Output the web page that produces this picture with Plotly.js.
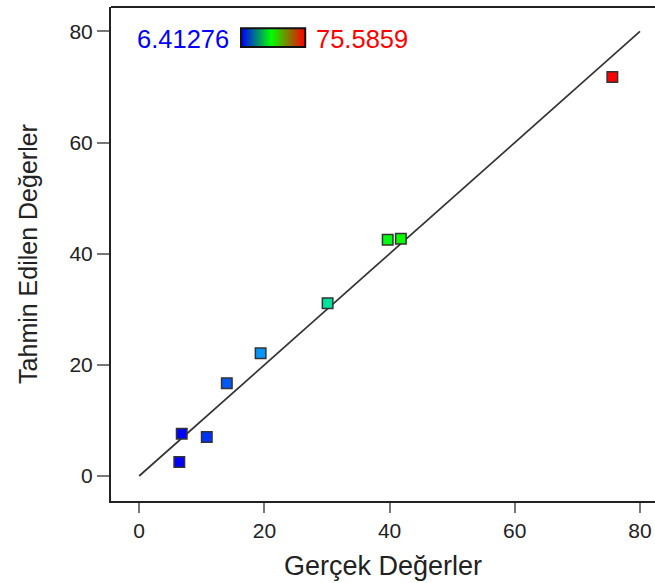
<!DOCTYPE html>
<html>
<head>
<meta charset="utf-8">
<script src="https://cdn.plot.ly/plotly-3.0.1.min.js"></script>
<style>html,body{margin:0;padding:0;background:#fff;}#chart{width:655px;height:583px;}</style>
</head>
<body>
<div id="chart"></div>
<script>
// Data
const actualValues = [6.41276, 6.8, 10.8, 14.0, 19.4, 30.1, 39.7, 41.8, 75.5859];
const predictedValues = [2.5, 7.6, 7.0, 16.7, 22.1, 31.1, 42.5, 42.7, 71.8];
const colorMin = 6.41276;
const colorMax = 75.5859;
const refLineX = [0, 80];
const refLineY = [0, 80];
const tickVals = [0, 20, 40, 60, 80];

const pointScale = [[0, '#0000ff'], [0.22, '#00b0ff'], [0.36, '#00e890'], [0.5, '#00ff00'], [0.75, '#c0c000'], [1, '#ff0000']];
const barScale = [[0, '#0000ff'], [0.47, '#00ff00'], [1, '#ff0000']];
const barSteps = [];
for (let i = 0; i < 64; i++) barSteps.push(i);

const font = "Liberation Sans, Arial, sans-serif";

const traces = [
  {
    x: refLineX, y: refLineY, mode: 'lines', type: 'scatter',
    line: {color: '#333333', width: 1.7}, hoverinfo: 'skip', showlegend: false
  },
  {
    x: actualValues, y: predictedValues, mode: 'markers', type: 'scatter',
    marker: {
      symbol: 'square', size: 10.5, color: actualValues,
      colorscale: pointScale, cmin: colorMin, cmax: colorMax,
      line: {color: '#333333', width: 1.5}
    },
    showlegend: false
  },
  {
    type: 'heatmap', z: [barSteps], xaxis: 'x2', yaxis: 'y2',
    colorscale: barScale, showscale: false, hoverinfo: 'skip'
  }
];

const layout = {
  width: 655, height: 583,
  margin: {l: 111, r: 0, t: 7, b: 82},
  paper_bgcolor: '#ffffff', plot_bgcolor: '#ffffff',
  font: {family: font, color: '#222222'},
  showlegend: false,
  xaxis: {
    range: [-4.5, 82.4], tickvals: tickVals, showgrid: false, zeroline: false,
    showline: true, linecolor: '#222222', linewidth: 2,
    ticks: 'outside', ticklen: 10, tickwidth: 2, tickcolor: '#777777',
    tickfont: {size: 21, family: font, color: '#222222'},
    title: {text: 'Gerçek Değerler', font: {size: 27, family: font, color: '#222222'}, standoff: 15}
  },
  yaxis: {
    range: [-4.5, 84.4], tickvals: tickVals, showgrid: false, zeroline: false,
    showline: true, linecolor: '#222222', linewidth: 2,
    ticks: 'outside', ticklen: 12, tickwidth: 2, tickcolor: '#777777',
    tickfont: {size: 21, family: font, color: '#222222'},
    title: {text: 'Tahmin Edilen Değerler', font: {size: 25, family: font, color: '#222222'}, standoff: 25}
  },
  xaxis2: {domain: [0.239, 0.357], anchor: 'y2', visible: false, range: [-0.5, 63.5]},
  yaxis2: {domain: [0.919, 0.957], anchor: 'x2', visible: false, range: [-0.5, 0.5]},
  shapes: [
    {type: 'line', xref: 'paper', yref: 'paper', x0: 0, x1: 1, y0: 1, y1: 1, line: {color: '#222222', width: 2}},
    {type: 'rect', xref: 'paper', yref: 'paper', x0: 0.239, x1: 0.357, y0: 0.919, y1: 0.957, line: {color: '#111111', width: 2}}
  ],
  annotations: [
    {text: '6.41276', xref: 'paper', yref: 'paper', x: 0.221, y: 0.935, xanchor: 'right', yanchor: 'middle', showarrow: false, font: {size: 25.5, color: '#0000ff', family: font}},
    {text: '75.5859', xref: 'paper', yref: 'paper', x: 0.373, y: 0.935, xanchor: 'left', yanchor: 'middle', showarrow: false, font: {size: 25.5, color: '#ff0000', family: font}}
  ]
};

Plotly.newPlot('chart', traces, layout, {displayModeBar: false, staticPlot: true});
</script>
</body>
</html>
